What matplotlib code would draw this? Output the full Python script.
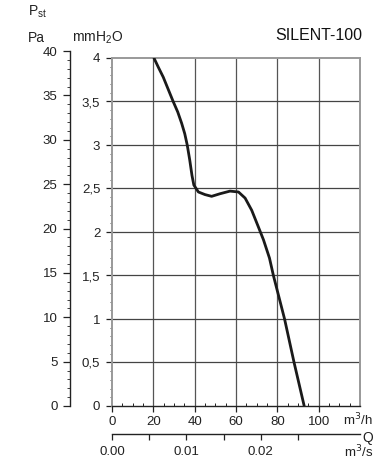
import numpy as np
import matplotlib.pyplot as plt
from matplotlib.ticker import FixedLocator, MultipleLocator

plt.rcParams['font.family'] = ['Liberation Sans', 'DejaVu Sans']

# Kennlinie SILENT-100
flow_m3h = [20.3, 22.5, 24.8, 27.2, 29.6, 31.8, 33.7, 35.2, 36.4, 37.6, 38.7, 39.6,
            41.8, 45.0, 48.2, 52.3, 57.1, 61.2, 64.4, 67.6, 70.8, 73.3, 76.2,
            78.1, 83.5, 88.1, 93.0]
p_mmh2o = [4.0, 3.89, 3.78, 3.64, 3.5, 3.38, 3.25, 3.13, 3.0, 2.83, 2.65, 2.54,
           2.46, 2.43, 2.41, 2.44, 2.47, 2.46, 2.39, 2.25, 2.06, 1.91, 1.70,
           1.5, 1.0, 0.5, 0.0]

x_major = [0, 20, 40, 60, 80, 100]
y_major = [0, 0.5, 1, 1.5, 2, 2.5, 3, 3.5, 4]
y_labels = ['0', '0,5', '1', '1,5', '2', '2,5', '3', '3,5', '4']
pa_ticks = [0, 5, 10, 15, 20, 25, 30, 35, 40]
q_major = [0.0, 0.01, 0.02]
q_minor = [0.005, 0.015, 0.025]

PA_PER_MM = 9.80665
W, H = 390, 469
fs = 9.5


def fx(px):
    return px / W


def fy(py):
    return 1 - py / H


fig = plt.figure(figsize=(W / 100, H / 100), dpi=100)

# Hauptdiagramm
x0, x1, y0, y1 = 112, 360, 406, 58
ax = fig.add_axes([fx(x0), fy(y0), fx(x1 - x0), fy(y1) - fy(y0)])
ax.set_xlim(0, 120)
ax.set_ylim(0, 4)
for v in x_major[1:]:
    ax.axvline(v, color='#555555', lw=0.9, zorder=1)
for v in y_major[1:-1]:
    ax.axhline(v, color='#444444', lw=0.9, zorder=1)
ax.plot(flow_m3h, p_mmh2o, color='#1a1a1a', lw=2.0, solid_capstyle='round',
        solid_joinstyle='round', zorder=3)

for s in ['top', 'right', 'left']:
    ax.spines[s].set_color('#999999')
    ax.spines[s].set_linewidth(1.4)
ax.spines['bottom'].set_color('#222222')
ax.spines['bottom'].set_linewidth(1.0)

ax.xaxis.set_major_locator(FixedLocator(x_major))
ax.xaxis.set_minor_locator(MultipleLocator(5))
ax.yaxis.set_major_locator(FixedLocator(y_major))
ax.set_yticklabels(y_labels)
ax.yaxis.set_minor_locator(MultipleLocator(0.1))
ax.tick_params(axis='x', which='major', direction='out', length=4, width=0.9,
               labelsize=fs, pad=3, colors='#222222')
ax.tick_params(axis='x', which='minor', direction='in', length=2.5, width=0.7,
               colors='#222222')
ax.tick_params(axis='y', which='major', direction='out', length=4.5, width=0.9,
               labelsize=fs, pad=4, colors='#222222')
ax.tick_params(axis='y', which='minor', direction='out', length=1.5, width=0.6,
               colors='#444444')

# Pa-Achse
pa_x = 70
pa_top = y0 - 40 / PA_PER_MM * (y0 - y1) / 4
axp = fig.add_axes([fx(pa_x), fy(y0), 0.0001, fy(pa_top) - fy(y0)])
axp.set_ylim(0, 40)
axp.set_xticks([])
for s in ['top', 'right', 'bottom']:
    axp.spines[s].set_visible(False)
axp.spines['left'].set_linewidth(1.0)
axp.spines['left'].set_color('#222222')
axp.yaxis.set_major_locator(FixedLocator(pa_ticks))
axp.yaxis.set_minor_locator(MultipleLocator(1))
axp.tick_params(axis='y', which='major', direction='out', length=5, width=0.9,
                labelsize=fs, pad=4, colors='#222222')
axp.tick_params(axis='y', which='minor', direction='out', length=2.5, width=0.6,
                colors='#222222')

# Q-Achse in m3/s
q_y = 434
axq = fig.add_axes([fx(x0), fy(q_y), fx(x1 - x0), 0.0001])
axq.set_xlim(0, 120 / 3600)
axq.set_yticks([])
for s in ['top', 'right', 'left']:
    axq.spines[s].set_visible(False)
axq.spines['bottom'].set_linewidth(1.0)
axq.spines['bottom'].set_color('#222222')
axq.xaxis.set_major_locator(FixedLocator(q_major))
axq.xaxis.set_minor_locator(FixedLocator(q_minor))
axq.set_xticklabels(['0.00', '0.01', '0.02'])
axq.tick_params(axis='x', which='both', direction='out', length=4.5, width=0.9,
                labelsize=fs, pad=4, colors='#222222')

# Beschriftungen
fig.text(fx(28), fy(12), r'P$_{\mathregular{st}}$', fontsize=fs + 0.5,
         ha='left', va='center', color='#222222')
fig.text(fx(28), fy(38), 'Pa', fontsize=fs + 0.5, ha='left', va='center', color='#222222')
fig.text(fx(72), fy(38), r'mmH$_\mathregular{2}$O', fontsize=fs + 0.5,
         ha='left', va='center', color='#222222')
fig.text(fx(362), fy(36), 'SILENT-100', fontsize=11.5,
         ha='right', va='center', color='#111111')
fig.text(fx(373), fy(420), 'm$^3$/h', fontsize=fs, ha='right', va='center', color='#222222')
fig.text(fx(362), fy(438), 'Q', fontsize=fs + 0.5, ha='left', va='center', color='#222222')
fig.text(fx(373), fy(452), 'm$^3$/s', fontsize=fs, ha='right', va='center', color='#222222')

fig.savefig('out.png', dpi=100)
